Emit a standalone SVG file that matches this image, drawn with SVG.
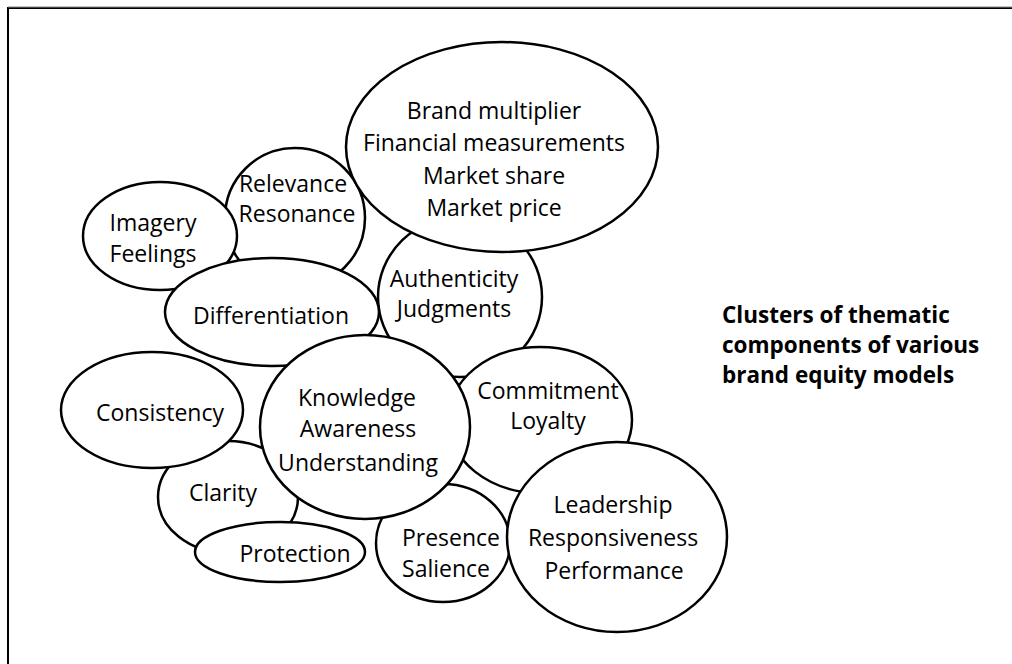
<svg xmlns="http://www.w3.org/2000/svg" width="1012" height="664" viewBox="0 0 1012 664">
<style>
.n{fill:#fff;stroke:#000;stroke-width:2.5}
.t{font-family:"Open Sans","Liberation Sans",sans-serif;font-size:23px;fill:#000;text-anchor:middle;dominant-baseline:central}
.h{font-family:"Open Sans","Liberation Sans",sans-serif;font-size:22.5px;font-weight:bold;fill:#000}
</style>
<rect width="1012" height="664" fill="#fff"/>
<g id="frame"><path d="M8,664 V8 H1012" fill="none" stroke="#000" stroke-width="2"/><path d="M8,7 H1012" stroke="#888" stroke-width="1"/></g>
<g id="connectors"></g>
<g id="relevance"><ellipse class="n" cx="295" cy="218" rx="70" ry="70"/><text class="t" x="293" y="183">Relevance</text><text class="t" x="297" y="213">Resonance</text></g>
<g id="imagery"><ellipse class="n" cx="160" cy="236" rx="77" ry="54"/><text class="t" x="153" y="222">Imagery</text><text class="t" x="153" y="253">Feelings</text></g>
<g id="authenticity"><ellipse class="n" cx="460" cy="297" rx="82" ry="80"/><text class="t" x="454" y="278">Authenticity</text><text class="t" x="454" y="308">Judgments</text></g>
<g id="differentiation"><ellipse class="n" cx="272" cy="312" rx="107" ry="54"/><text class="t" x="271" y="315">Differentiation</text></g>
<g id="financial"><ellipse class="n" cx="502" cy="147" rx="156" ry="105"/><text class="t" x="494" y="110">Brand multiplier</text><text class="t" x="494" y="142">Financial measurements</text><text class="t" x="494" y="175">Market share</text><text class="t" x="494" y="207">Market price</text></g>
<g id="commitment"><ellipse class="n" cx="540" cy="420" rx="92" ry="73"/><text class="t" x="548" y="390">Commitment</text><text class="t" x="548" y="420">Loyalty</text></g>
<g id="clarity"><ellipse class="n" cx="228" cy="497" rx="70" ry="56"/><text class="t" x="223" y="492">Clarity</text></g>
<g id="presence"><ellipse class="n" cx="443" cy="543" rx="67" ry="59"/><text class="t" x="451" y="537">Presence</text><text class="t" x="446" y="568">Salience</text></g>
<g id="knowledge"><ellipse class="n" cx="365" cy="427" rx="105" ry="92"/><text class="t" x="357" y="397">Knowledge</text><text class="t" x="358" y="428">Awareness</text><text class="t" x="358" y="462">Understanding</text></g>
<g id="consistency"><ellipse class="n" cx="152" cy="410" rx="91" ry="58"/><text class="t" x="160" y="412">Consistency</text></g>
<g id="protection"><ellipse class="n" cx="280" cy="552" rx="85" ry="30"/><text class="t" x="295" y="553">Protection</text></g>
<g id="leadership"><ellipse class="n" cx="617" cy="537" rx="110" ry="95"/><text class="t" x="613" y="504">Leadership</text><text class="t" x="613" y="537">Responsiveness</text><text class="t" x="614" y="570">Performance</text></g>
<g id="caption"><text class="h" x="722" y="323">Clusters of thematic</text><text class="h" x="722" y="353">components of various</text><text class="h" x="722" y="383">brand equity models</text></g>
</svg>
